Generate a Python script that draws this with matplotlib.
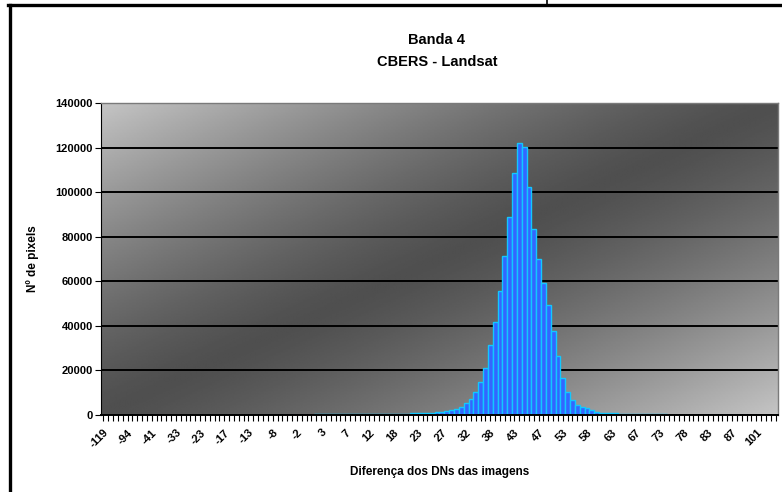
import numpy as np
import matplotlib
matplotlib.use("Agg")
import matplotlib.pyplot as plt
from matplotlib.lines import Line2D

# Histogram of DN differences, band 4 (CBERS - Landsat)
# one bar per category, only every 5th category is labelled on the axis
tick_labels = ["-119", "-94", "-41", "-33", "-23", "-17", "-13", "-8", "-2",
               "3", "7", "12", "18", "23", "27", "32", "38", "43", "47", "53",
               "58", "63", "67", "73", "78", "83", "87", "101"]

left_tail = [5, 3, 4, 2, 6, 5, 8, 6, 10, 9, 12, 10, 15, 14, 18, 16, 20, 22, 25, 24,
             30, 32, 35, 40, 45, 50, 55, 60, 70, 80, 90, 100, 110, 120, 130, 140,
             150, 160, 170, 180, 190, 200, 210, 220, 230, 240, 250, 260, 270, 280,
             290, 300, 320, 340]
rise = [400, 420, 450, 480, 500, 520, 550, 580, 600, 650, 700,
        800, 900, 1000, 1100, 1300,
        1500, 1800, 2200, 2800, 3700, 5200, 7000, 10500, 14900, 21200, 31400, 41900,
        55600, 71500, 88700, 108400]
peak = [121900, 120100]
fall = [102100, 83400, 69800, 59100, 49300, 37900, 26500, 16700, 10300, 6800,
        4500, 3700, 3000, 2200, 1500, 1000, 900, 800, 700, 600,
        500, 450, 400, 380, 350, 300, 280, 250, 230, 200, 180, 150, 130, 100]
right_tail = [80, 70, 60, 50, 45, 40, 35, 30, 25, 20, 18, 15, 12, 10, 8, 6, 5, 4]

counts = np.array(left_tail + rise + peak + fall + right_tail, dtype=float)
n_cat = len(counts)
label_step = 5

W, H = 782, 492
fig = plt.figure(figsize=(W / 100, H / 100), dpi=100)
fig.patch.set_facecolor("white")
plt.rcParams["font.family"] = ["Liberation Sans", "DejaVu Sans"]

# outer frame of the chart object (left and top edges visible)
fig.add_artist(Line2D([9.5 / W, 9.5 / W], [0, 1 - 4.5 / H], transform=fig.transFigure,
                      color="black", lw=2.4))
fig.add_artist(Line2D([8 / W, 1], [1 - 4.5 / H, 1 - 4.5 / H], transform=fig.transFigure,
                      color="black", lw=2.4))
fig.add_artist(Line2D([547 / W, 547 / W], [1 - 4.5 / H, 1], transform=fig.transFigure,
                      color="black", lw=1.2))

px_l, px_r, px_t, px_b = 101, 778, 103, 415
ax = fig.add_axes([px_l / W, 1 - px_b / H, (px_r - px_l) / W, (px_b - px_t) / H])

# diagonal gradient background: light corners top-left / bottom-right, dark band between
gx, gy = np.meshgrid(np.linspace(0, 1, 400), np.linspace(0, 1, 200))
t = (gx + gy) / 2
v = np.abs(2 * t - 1)
light, dark = 0.77, 0.31
shade = dark + (light - dark) * v ** 1.3
ax.imshow(shade, cmap="gray", vmin=0, vmax=1, aspect="auto",
          extent=[-0.5, n_cat - 0.5, 0, 140000], origin="upper", zorder=0,
          interpolation="bilinear")

ax.set_xlim(-0.5, n_cat - 0.5)
ax.set_ylim(0, 140000)

ax.set_axisbelow(True)
ax.yaxis.grid(True, color="black", lw=1.4)

x = np.arange(n_cat)
ax.bar(x, counts, width=1.0, color="#3366ff", edgecolor="#12c8ff", linewidth=1.0, zorder=2)

for s in ["top", "right"]:
    ax.spines[s].set_color("#7a7a7a")
    ax.spines[s].set_linewidth(1.0)
ax.spines["left"].set_color("black")
ax.spines["bottom"].set_color("black")
ax.spines["bottom"].set_linewidth(1.4)
ax.spines["bottom"].set_zorder(3)

ax.set_yticks(np.arange(0, 140001, 20000))
ax.set_yticklabels([str(v) for v in range(0, 140001, 20000)], fontsize=8, fontweight="bold")
ax.tick_params(axis="y", length=4, width=0.8, pad=2)

ax.set_xticks(x, minor=True)
ax.set_xticks(x[::label_step])
ax.set_xticklabels(tick_labels, rotation=45, ha="right", rotation_mode="anchor",
                   fontsize=8, fontweight="bold")
ax.tick_params(axis="x", which="both", length=4, width=0.8, direction="out", pad=5)

ax.set_ylabel("Nº de pixels", fontsize=8.5, fontweight="bold", labelpad=12)
ax.set_xlabel("Diferença dos DNs das imagens", fontsize=8.5, fontweight="bold", labelpad=12)

fig.text(437 / W, 1 - 40 / H, "Banda 4", ha="center", va="center", fontsize=10.5, fontweight="bold")
fig.text(437 / W, 1 - 62 / H, "CBERS - Landsat", ha="center", va="center", fontsize=10.5,
         fontweight="bold")

fig.savefig("out.png", dpi=100)
